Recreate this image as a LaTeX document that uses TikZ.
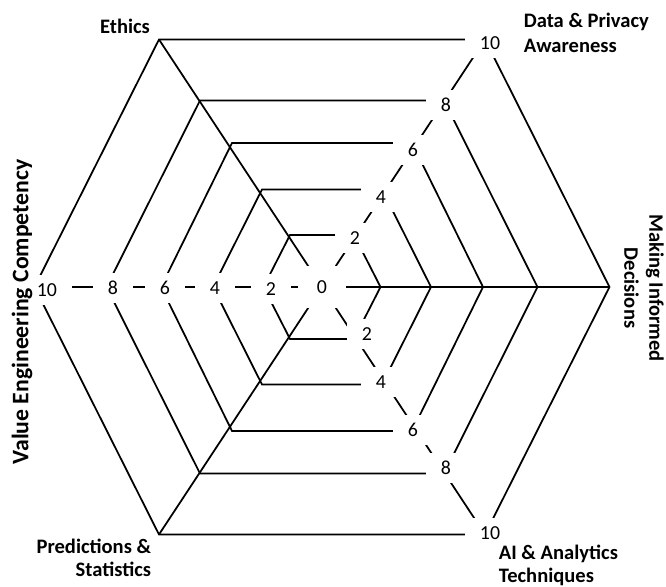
\documentclass[tikz,border=0pt]{standalone}
\usepackage{fontspec}
\setmainfont{Carlito}
\newcommand{\ticksize}{\fontsize{11.3}{13}\selectfont}
\newcommand{\titlesize}{\fontsize{11.7}{13}\selectfont}
\newcommand{\widetitlesize}{\fontsize{11.7}{14.2}\selectfont}
\newcommand{\bigtitlesize}{\fontsize{13.5}{15}\selectfont}
\usepackage{tikz}

\begin{document}
\begin{tikzpicture}[x=0.02cm, y=0.02cm, line width=1pt,
    tick/.style={fill=white, inner xsep=8.5pt, inner ysep=4.7pt, font=\ticksize},
    title/.style={inner sep=0pt, font=\titlesize\bfseries}]
    \useasboundingbox (-322,-300) rectangle (344,287);
    % outer corners, one per axis
    \coordinate (centre) at (0,0);
    \coordinate (ethics) at (-163,247.5);
    \coordinate (privacy) at (163,247.5);
    \coordinate (decisions) at (287.5,0);
    \coordinate (analytics) at (163,-247.5);
    \coordinate (predictions) at (-163,-247.5);
    \coordinate (engineering) at (-287.5,0);
    % rings
    \draw (-32,52) -- (32,52) -- (58.5,0) -- (32,-52) -- (-32,-52) -- (-58.5,0) -- cycle;
    \draw (-60,97.5) -- (60,97.5) -- (109,0) -- (60,-97.5) -- (-60,-97.5) -- (-109,0) -- cycle;
    \draw (-90,144) -- (90,144) -- (161,0) -- (90,-144) -- (-90,-144) -- (-161,0) -- cycle;
    \draw (-122,186.5) -- (122,186.5) -- (215.5,0) -- (122,-186.5) -- (-122,-186.5) -- (-215.5,0) -- cycle;
    \draw (ethics) -- (privacy) -- (decisions) -- (analytics) -- (predictions) -- (engineering) -- cycle;
    % axes
    \draw (centre) -- (ethics);
    \draw (centre) -- (privacy);
    \draw (centre) -- (decisions);
    \draw (centre) -- (analytics);
    \draw (centre) -- (predictions);
    \draw (centre) -- (engineering);
    % scale labels
    \node[tick, inner xsep=11pt, inner ysep=8pt] (t0) at (0,0) {0};
    \node[tick] (l2) at (-51,-2) {2};
    \node[tick] (l4) at (-107,-1) {4};
    \node[tick] (l6) at (-157,-1) {6};
    \node[tick] (l8) at (-209,-1) {8};
    \node[tick] (l10) at (-275,-3) {10};
    \node[tick] (u2) at (33,49) {2};
    \node[tick] (u4) at (59,90) {4};
    \node[tick] (u6) at (91,137) {6};
    \node[tick] (u8) at (124,182) {8};
    \node[tick] (u10) at (168,244) {10};
    \node[tick] (d2) at (45,-47) {2};
    \node[tick] (d4) at (59,-95) {4};
    \node[tick] (d6) at (91,-143) {6};
    \node[tick] (d8) at (124,-181) {8};
    \node[tick] (d10) at (168,-246) {10};
    % axis titles
    \node[title] (ethicsT) at (-197,261) {Ethics};
    \node[title, font=\widetitlesize\bfseries, anchor=north west, align=left] (privacyT) at (201,275) {Data \& Privacy\\Awareness};
    \node[title, font=\widetitlesize\bfseries, rotate=-90, align=center] (decisionsT) at (322,-1) {Making Informed\\Decisions};
    \node[title, anchor=north west, align=left] (analyticsT) at (176,-257) {AI \& Analytics\\Techniques};
    \node[title, anchor=north east, align=right] (predictionsT) at (-170,-251) {Predictions \&\\Statistics};
    \node[title, font=\bigtitlesize\bfseries, rotate=90] (engineeringT) at (-300,-25) {Value Engineering Competency};
\end{tikzpicture}
\end{document}
